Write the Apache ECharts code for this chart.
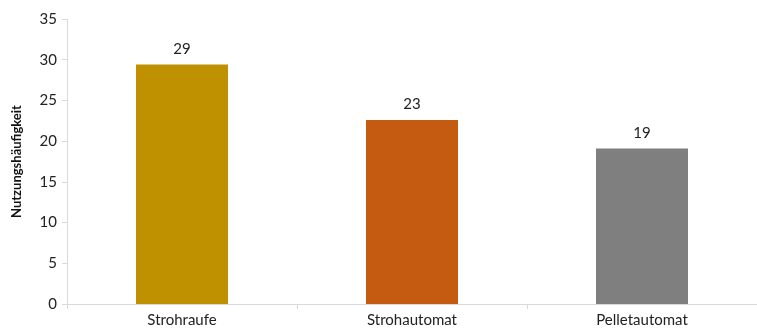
<!DOCTYPE html>
<html>
<head>
<meta charset="utf-8">
<script src="https://cdn.jsdelivr.net/npm/echarts@6/dist/echarts.min.js"></script>
<style>
html, body { margin: 0; padding: 0; background: #fff; }
#chart { width: 757px; height: 335px; }
</style>
</head>
<body>
<div id="chart"></div>
<script>
var categories = ['Strohraufe', 'Strohautomat', 'Pelletautomat'];
var values = [29.4, 22.6, 19.1];
var barColors = ['#BF9000', '#C55A11', '#7F7F7F'];
var yTicks = [0, 5, 10, 15, 20, 25, 30, 35];

var chart = echarts.init(document.getElementById('chart'));
var option = {
    animation: false,
    textStyle: {
        fontFamily: 'Lato, "Open Sans", sans-serif'
    },
    grid: {
        left: 67,
        right: 0,
        top: 19,
        bottom: 31
    },
    xAxis: {
        type: 'category',
        data: categories,
        axisLine: {
            lineStyle: {
                color: '#d9d9d9'
            }
        },
        axisTick: {
            show: true,
            length: 5,
            lineStyle: {
                color: '#d9d9d9'
            }
        },
        axisLabel: {
            color: '#222',
            fontSize: 15,
            margin: 9
        }
    },
    yAxis: {
        type: 'value',
        min: yTicks[0],
        max: yTicks[yTicks.length - 1],
        interval: 5,
        name: 'Nutzungshäufigkeit',
        nameLocation: 'middle',
        nameGap: 44,
        nameTextStyle: {
            color: '#111',
            fontSize: 13,
            fontWeight: 'bold'
        },
        axisLine: {
            show: true,
            lineStyle: {
                color: '#d9d9d9'
            }
        },
        axisTick: {
            show: true,
            length: 5,
            lineStyle: {
                color: '#d9d9d9'
            }
        },
        axisLabel: {
            color: '#222',
            fontSize: 15,
            margin: 10
        },
        splitLine: {
            show: false
        }
    },
    series: [
        {
            type: 'bar',
            barWidth: '40%',
            data: values.map(function(v, i) {
                return {
                    value: v,
                    itemStyle: { color: barColors[i] }
                };
            }),
            label: {
                show: true,
                position: 'top',
                distance: 8,
                color: '#222',
                fontSize: 15,
                formatter: function(p) {
                    return Math.round(p.value);
                }
            }
        }
    ]
};
chart.setOption(option);
</script>
</body>
</html>
